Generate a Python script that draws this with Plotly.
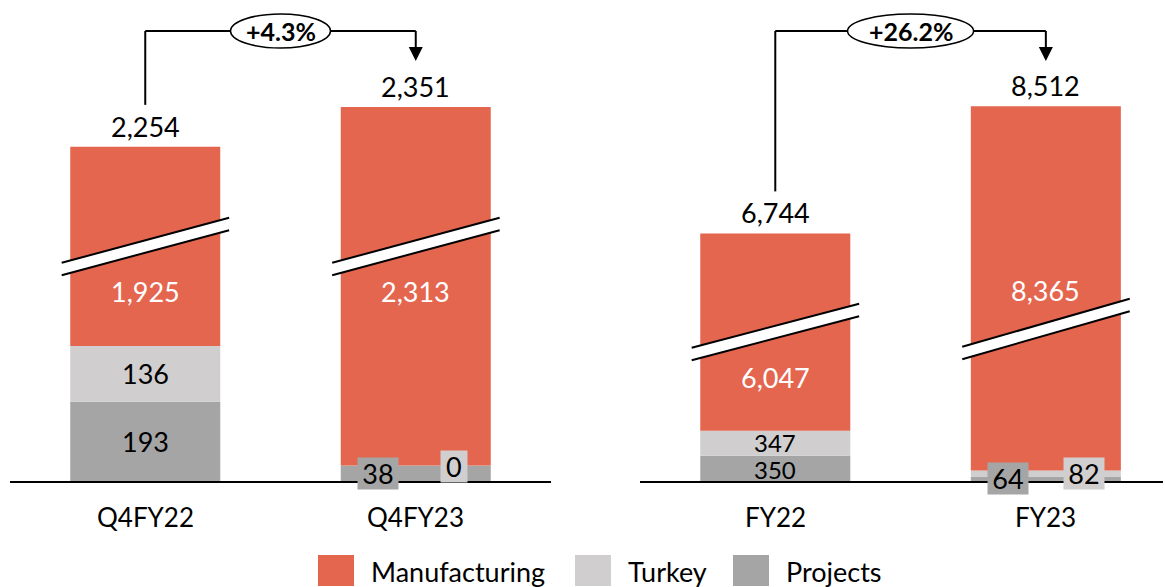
import plotly.graph_objects as go

# ---------------- data ----------------
periods_q = ["Q4FY22", "Q4FY23"]
manufacturing_q = [1925, 2313]
turkey_q = [136, 0]
projects_q = [193, 38]
total_q = [2254, 2351]

periods_fy = ["FY22", "FY23"]
manufacturing_fy = [6047, 8365]
turkey_fy = [347, 82]
projects_fy = [350, 64]
total_fy = [6744, 8512]

growth_labels = ["+4.3%", "+26.2%"]
series_names = ["Manufacturing", "Turkey", "Projects"]

# ---------------- style ----------------
C_MFG = "#E4664F"
C_TUR = "#D0CECE"
C_PRJ = "#A5A5A5"
FONT = "Lato"
FS = 27
W, H = 1165, 587
BASE_PX = 481          # baseline pixel row
SPACING_PX = 270.5     # px per category step

panels = [
    dict(x="x", y="y", xd=(10, 551), xr=(-0.5, 1.5), scale=0.41, gap=1439,
         cats=periods_q, mfg=manufacturing_q, tur=turkey_q, prj=projects_q, tot=total_q,
         brk=[(212, 257), (212, 257)], mfg_lbl=[190, 190], small_boxed=[False, True],
         ell_w=100),
    dict(x="x2", y="y2", xd=(640, 1163), xr=(-0.5, 1.433), scale=0.072, gap=3305,
         cats=periods_fy, mfg=manufacturing_fy, tur=turkey_fy, prj=projects_fy, tot=total_fy,
         brk=[(127, 171), (128, 176)], mfg_lbl=[104, 191], small_boxed=[False, True],
         ell_w=126),
]

fig = go.Figure()
shapes = []
annotations = []
BAR_W = 150 / SPACING_PX


def fmt(v):
    return f"{v:,}"


def box_w(text):
    return 11 + 14.5 * len(text)


for pi, p in enumerate(panels):
    s = p["scale"]
    u = lambda px, s=s: px / s            # pixel height -> display units
    xref, yref = p["x"], p["y"]
    xs = [0, 1]
    lower = [a + b for a, b in zip(p["prj"], p["tur"])]
    shown_mfg = [m - p["gap"] for m in p["mfg"]]   # broken axis: gap removed
    tops = [l + m for l, m in zip(lower, shown_mfg)]

    fig.add_trace(go.Bar(x=xs, y=p["prj"], base=[0, 0], width=BAR_W, marker_color=C_PRJ,
                         marker_line_width=0, name="Projects", showlegend=False,
                         xaxis=xref, yaxis=yref))
    fig.add_trace(go.Bar(x=xs, y=p["tur"], base=p["prj"], width=BAR_W, marker_color=C_TUR,
                         marker_line_width=0, name="Turkey", showlegend=False,
                         xaxis=xref, yaxis=yref))
    fig.add_trace(go.Bar(x=xs, y=shown_mfg, base=lower, width=BAR_W, marker_color=C_MFG,
                         marker_line_width=0, name="Manufacturing", showlegend=False,
                         xaxis=xref, yaxis=yref))

    for i in xs:
        # axis break marks
        yl, yr = p["brk"][i]
        h = 6.2
        x0, x1 = i - 0.309, i + 0.31
        shapes.append(dict(type="path", xref=xref, yref=yref, layer="above",
                           path=f"M{x0},{u(yl-h)} L{x1},{u(yr-h)} L{x1},{u(yr+h)} L{x0},{u(yl+h)} Z",
                           fillcolor="white", line=dict(width=0)))
        for sgn in (-1, 1):
            shapes.append(dict(type="line", xref=xref, yref=yref, layer="above",
                               x0=x0, y0=u(yl + sgn * h), x1=x1, y1=u(yr + sgn * h),
                               line=dict(color="black", width=2)))
        # total label
        annotations.append(dict(x=i, y=tops[i], xref=xref, yref=yref, text=fmt(p["tot"][i]),
                                showarrow=False, yanchor="bottom", yshift=2,
                                font=dict(size=FS, color="black")))
        # manufacturing label
        annotations.append(dict(x=i, y=u(p["mfg_lbl"][i]), xref=xref, yref=yref,
                                text=fmt(p["mfg"][i]), showarrow=False,
                                font=dict(size=FS, color="white")))
        # category label
        annotations.append(dict(x=i, y=0, xref=xref, yref=yref, text=p["cats"][i],
                                showarrow=False, yanchor="top", yshift=-18,
                                font=dict(size=FS - 1, color="black")))
        if p["small_boxed"][i]:
            prj_px = p["prj"][i] * s
            lower_px = lower[i] * s
            t_prj, t_tur = fmt(p["prj"][i]), fmt(p["tur"][i])
            annotations.append(dict(x=i - 38 / SPACING_PX, y=u(max(prj_px / 2, 2) if pi == 1 else 8),
                                    xref=xref, yref=yref, text=t_prj, showarrow=False,
                                    bgcolor=C_PRJ, borderpad=0, width=box_w(t_prj), height=31,
                                    font=dict(size=FS, color="black")))
            annotations.append(dict(x=i + 38 / SPACING_PX, y=u(lower_px - 3 if pi == 1 else 15),
                                    xref=xref, yref=yref, text=t_tur, showarrow=False,
                                    bgcolor=C_TUR, borderpad=0, width=box_w(t_tur), height=31,
                                    font=dict(size=FS, color="black")))
        else:
            small = pi == 1
            annotations.append(dict(x=i, y=p["prj"][i] / 2, xref=xref, yref=yref,
                                    text=fmt(p["prj"][i]), showarrow=False,
                                    yshift=-1 if small else 0,
                                    font=dict(size=FS - 3 if small else FS, color="black")))
            annotations.append(dict(x=i, y=p["prj"][i] + p["tur"][i] / 2, xref=xref, yref=yref,
                                    text=fmt(p["tur"][i]), showarrow=False,
                                    yshift=1 if small else 0,
                                    font=dict(size=FS - 3 if small else FS, color="black")))

    # growth connector
    top_px = BASE_PX - 31
    start = tops[0] + u(42)
    ytop = u(top_px)
    arrow_base = u(BASE_PX - 47)
    arrow_tip = u(BASE_PX - 61)
    hw = 7 / SPACING_PX
    line = dict(color="black", width=2)
    shapes.append(dict(type="line", xref=xref, yref=yref, x0=0, y0=start, x1=0, y1=ytop, line=line))
    shapes.append(dict(type="line", xref=xref, yref=yref, x0=0, y0=ytop, x1=1, y1=ytop, line=line))
    shapes.append(dict(type="line", xref=xref, yref=yref, x0=1, y0=ytop, x1=1, y1=arrow_base, line=line))
    shapes.append(dict(type="path", xref=xref, yref=yref,
                       path=f"M{1-hw},{arrow_base} L{1+hw},{arrow_base} L1,{arrow_tip} Z",
                       fillcolor="black", line=dict(width=0)))
    ew = p["ell_w"] / 2 / SPACING_PX
    shapes.append(dict(type="circle", xref=xref, yref=yref, x0=0.5 - ew, x1=0.5 + ew,
                       y0=u(BASE_PX - 48), y1=u(BASE_PX - 14), fillcolor="white",
                       line=dict(color="black", width=1.5)))
    annotations.append(dict(x=0.5, y=ytop, xref=xref, yref=yref, text=f"<b>{growth_labels[pi]}</b>",
                            showarrow=False, font=dict(size=FS - 2, color="black")))

# ---------------- manual legend ----------------
legend_items = [(series_names[0], C_MFG, 318), (series_names[1], C_TUR, 575), (series_names[2], C_PRJ, 733)]
for name, col, xpx in legend_items:
    shapes.append(dict(type="rect", xref="paper", yref="paper",
                       x0=xpx / W, x1=(xpx + 36) / W, y0=1 - 586 / H, y1=1 - 555 / H,
                       fillcolor=col, line=dict(width=0)))
    annotations.append(dict(x=(xpx + 51) / W, y=1 - 571 / H, xref="paper", yref="paper",
                            text=name, showarrow=False, xanchor="left", yanchor="middle",
                            font=dict(size=FS, color="black")))

ydom = [(H - BASE_PX) / H, 1]
ax_common = dict(showline=True, linecolor="black", linewidth=2, showticklabels=False,
                 showgrid=False, zeroline=False, ticks="", fixedrange=True)
fig.update_layout(
    width=W, height=H, margin=dict(l=0, r=0, t=0, b=0),
    paper_bgcolor="white", plot_bgcolor="white",
    font=dict(family=FONT, color="black"),
    barmode="overlay", showlegend=False,
    xaxis=dict(domain=[panels[0]["xd"][0] / W, panels[0]["xd"][1] / W],
               range=list(panels[0]["xr"]), anchor="y", **ax_common),
    xaxis2=dict(domain=[panels[1]["xd"][0] / W, panels[1]["xd"][1] / W],
                range=list(panels[1]["xr"]), anchor="y2", **ax_common),
    yaxis=dict(domain=ydom, range=[0, BASE_PX / panels[0]["scale"]], visible=False, fixedrange=True),
    yaxis2=dict(domain=ydom, range=[0, BASE_PX / panels[1]["scale"]], visible=False,
                anchor="x2", fixedrange=True),
    shapes=shapes, annotations=annotations,
)

fig.write_html("out.html", config={"displayModeBar": False},
               post_script="document.body.style.margin='0';")
